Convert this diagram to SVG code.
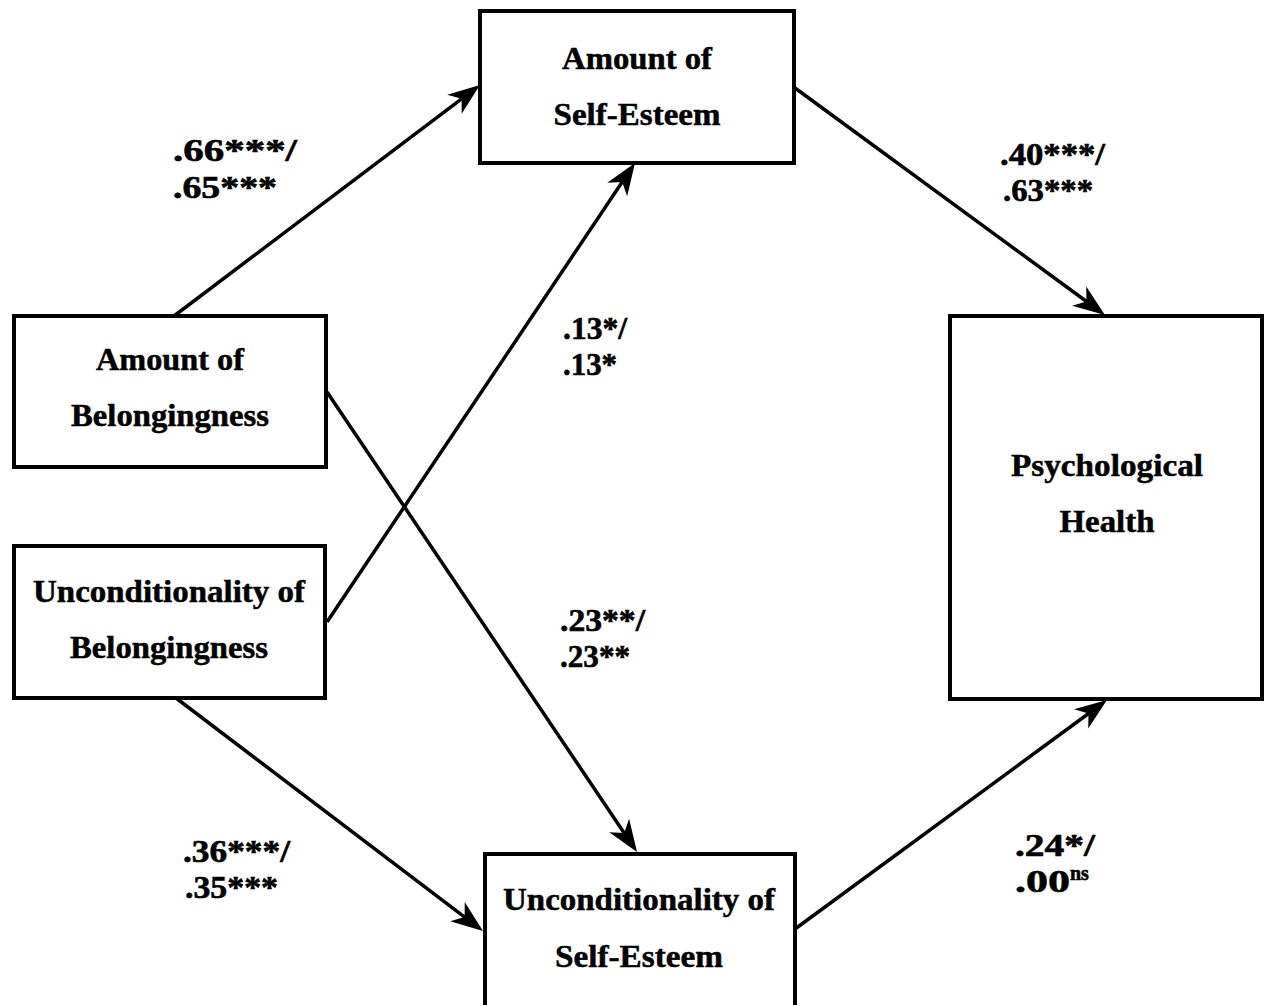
<svg xmlns="http://www.w3.org/2000/svg" width="1264" height="1005" viewBox="0 0 1264 1005">
<style>
.box{fill:#fff;stroke:#000;stroke-width:4}
.t{font-family:"Liberation Serif","Times New Roman",serif;font-weight:bold;font-size:32px;fill:#000;stroke:#000;stroke-width:0.5;text-anchor:middle}
.l{font-family:"Liberation Serif","Times New Roman",serif;font-weight:bold;font-size:31px;fill:#000;stroke:#000;stroke-width:0.6}
.c{stroke:#000;stroke-width:3.5;fill:none;marker-end:url(#ah)}
</style>
<defs>
<marker id="ah" markerUnits="userSpaceOnUse" viewBox="0 -13 34 26" markerWidth="34" markerHeight="26" refX="21" refY="0" orient="auto">
<path d="M32,0 L0,-12 L9,0 L0,12 Z" fill="#000"/>
</marker>
</defs>
<rect width="1264" height="1005" fill="#fff"/>
<g id="connectors">
<line class="c" x1="174" y1="316" x2="471.2" y2="91.6"/>
<line class="c" x1="327" y1="622" x2="628.9" y2="172.1"/>
<line class="c" x1="795" y1="88" x2="1096.1" y2="308.5"/>
<line class="c" x1="327" y1="392" x2="630.9" y2="842.9"/>
<line class="c" x1="176" y1="698" x2="474.2" y2="924.3"/>
<line class="c" x1="795" y1="929" x2="1098.1" y2="706.5"/>
</g>
<g id="amount-self-esteem">
<rect class="box" x="480" y="11" width="314" height="152"/>
<text class="t" x="637" y="69" textLength="150" lengthAdjust="spacingAndGlyphs">Amount of</text>
<text class="t" x="637" y="125" textLength="167" lengthAdjust="spacingAndGlyphs">Self-Esteem</text>
</g>
<g id="amount-belongingness">
<rect class="box" x="14" y="316" width="312" height="151"/>
<text class="t" x="170" y="370" textLength="148" lengthAdjust="spacingAndGlyphs">Amount of</text>
<text class="t" x="170" y="426" textLength="198" lengthAdjust="spacingAndGlyphs">Belongingness</text>
</g>
<g id="unconditionality-belongingness">
<rect class="box" x="14" y="546" width="311" height="152"/>
<text class="t" x="169" y="602" textLength="272" lengthAdjust="spacingAndGlyphs">Unconditionality of</text>
<text class="t" x="169" y="658" textLength="198" lengthAdjust="spacingAndGlyphs">Belongingness</text>
</g>
<g id="psychological-health">
<rect class="box" x="950" y="316" width="312" height="383"/>
<text class="t" x="1107" y="476" textLength="192" lengthAdjust="spacingAndGlyphs">Psychological</text>
<text class="t" x="1107" y="532" textLength="95" lengthAdjust="spacingAndGlyphs">Health</text>
</g>
<g id="unconditionality-self-esteem">
<rect class="box" x="485" y="854" width="310" height="160"/>
<text class="t" x="639" y="910" textLength="272" lengthAdjust="spacingAndGlyphs">Unconditionality of</text>
<text class="t" x="639" y="967" textLength="168" lengthAdjust="spacingAndGlyphs">Self-Esteem</text>
</g>
<g id="labels">
<text class="l" x="173" y="161" textLength="124" lengthAdjust="spacingAndGlyphs">.66***/</text>
<text class="l" x="173" y="198" textLength="104" lengthAdjust="spacingAndGlyphs">.65***</text>
<text class="l" x="1000" y="165" textLength="105" lengthAdjust="spacingAndGlyphs">.40***/</text>
<text class="l" x="1003" y="201" textLength="90" lengthAdjust="spacingAndGlyphs">.63***</text>
<text class="l" x="563" y="339" textLength="64" lengthAdjust="spacingAndGlyphs">.13*/</text>
<text class="l" x="563" y="375" textLength="54" lengthAdjust="spacingAndGlyphs">.13*</text>
<text class="l" x="560" y="631" textLength="85" lengthAdjust="spacingAndGlyphs">.23**/</text>
<text class="l" x="560" y="667" textLength="70" lengthAdjust="spacingAndGlyphs">.23**</text>
<text class="l" x="183" y="862" textLength="107" lengthAdjust="spacingAndGlyphs">.36***/</text>
<text class="l" x="185" y="898" textLength="93" lengthAdjust="spacingAndGlyphs">.35***</text>
<text class="l" x="1015" y="856" textLength="80" lengthAdjust="spacingAndGlyphs">.24*/</text>
<text class="l" x="1015" y="892"><tspan textLength="55" lengthAdjust="spacingAndGlyphs">.00</tspan><tspan font-size="20" dy="-12">ns</tspan></text>
</g>
</svg>
